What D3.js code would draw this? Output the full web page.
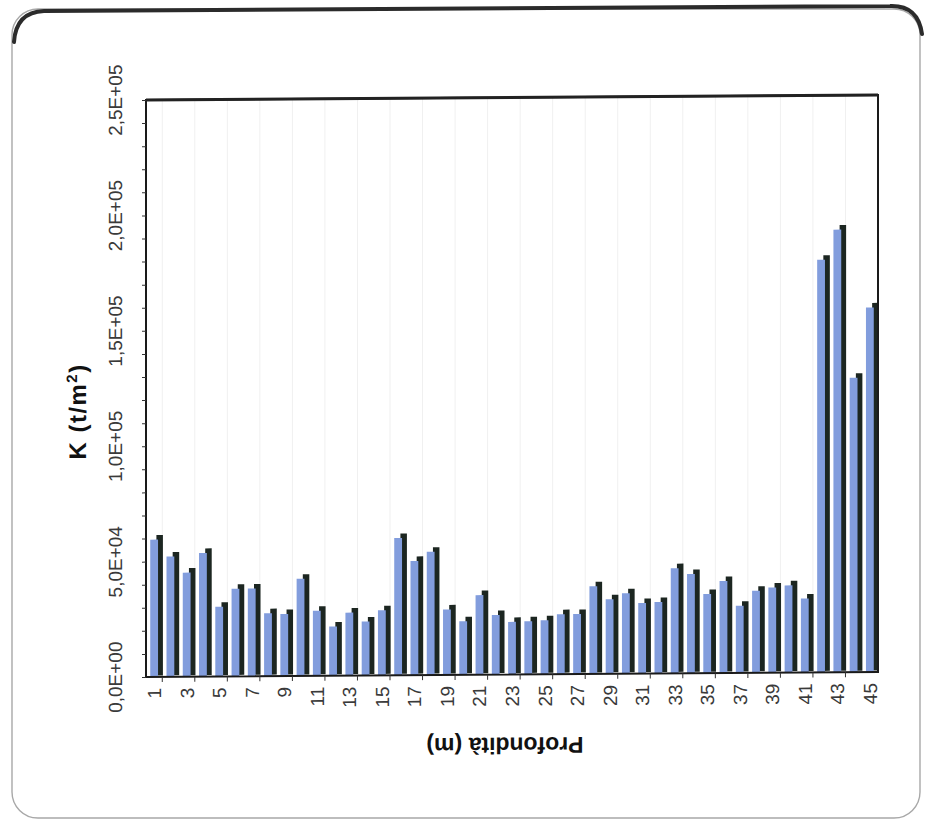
<!DOCTYPE html>
<html>
<head>
<meta charset="utf-8">
<script src="https://cdn.jsdelivr.net/npm/d3@7"></script>
<style>
  html, body { margin: 0; padding: 0; background: #ffffff; }
  svg { display: block; }
  text { font-family: "Liberation Sans", Arial, sans-serif; }
</style>
</head>
<body>
<svg id="chart" width="930" height="823"></svg>
<script>
// Depth (m) of each measurement
const depths = d3.range(1, 46);

// Subgrade modulus K (t/m²) at each depth
const kValues = [
  59500, 52100, 45100, 53600, 30200, 38000, 38000, 27300, 26900, 42100,
  28200, 21300, 27300, 23400, 28200, 59500, 49500, 53400, 28400, 23200,
  34500, 25800, 22800, 23000, 23400, 26000, 26000, 38000, 32300, 34900,
  30600, 31000, 45600, 43000, 34300, 39900, 29100, 35600, 36900, 37800,
  32100, 178800, 191800, 127600, 158000
];

// Value axis ticks and their labels
const yTickValues = [0, 50000, 100000, 150000, 200000, 250000];
const yTickLabels = ["0,0E+00", "5,0E+04", "1,0E+05", "1,5E+05", "2,0E+05", "2,5E+05"];
const yMinorStep = 10000;

// Category labels shown on every other depth
const xTickLabels = depths.filter(d => d % 2 === 1);

const svg = d3.select("#chart");
const plot = { left: 146, right: 878, top: 101, bottom: 678 };

// Rounded outer frame
const frame = svg.append("g");
frame.append("rect")
  .attr("x", 12).attr("y", 9).attr("width", 908).attr("height", 809)
  .attr("rx", 26).attr("ry", 26)
  .attr("fill", "#ffffff").attr("stroke", "#a8a8a8").attr("stroke-width", 1.4);
frame.append("path")
  .attr("d", "M14,42 Q16,12 44,11 L890,6 Q918,5 922,34")
  .attr("fill", "none").attr("stroke", "#2b2b2b").attr("stroke-width", 4)
  .attr("stroke-linecap", "round");

// Everything inside the frame is drawn slightly sloped
const g = svg.append("g").attr("transform", "skewY(-0.39)");

const x = d3.scaleBand().domain(depths).range([plot.left, plot.right]);
const y = d3.scaleLinear().domain([0, 250000]).range([plot.bottom, plot.top]);
const bw = x.bandwidth();

// Faint vertical gridlines
g.append("g").selectAll("line")
  .data(depths.filter(d => d % 2 === 1 && d < 45))
  .join("line")
  .attr("x1", d => x(d) + bw).attr("x2", d => x(d) + bw)
  .attr("y1", plot.top).attr("y2", plot.bottom)
  .attr("stroke", "#f0f0f0").attr("stroke-width", 1);

// Bars: dark side/shadow behind, blue face in front
const bars = g.append("g");
bars.selectAll("rect.side")
  .data(kValues)
  .join("rect")
  .attr("class", "side")
  .attr("x", (d, i) => x(depths[i]) + bw * 0.64)
  .attr("width", bw * 0.40)
  .attr("y", d => y(d) - 4.5)
  .attr("height", d => plot.bottom - y(d) + 3)
  .attr("fill", "#1c2621");
bars.selectAll("rect.face")
  .data(kValues)
  .join("rect")
  .attr("class", "face")
  .attr("x", (d, i) => x(depths[i]) + bw * 0.26)
  .attr("width", bw * 0.48)
  .attr("y", d => y(d))
  .attr("height", d => plot.bottom - y(d))
  .attr("fill", "#829ddd");

// Plot border
g.append("rect")
  .attr("x", plot.left).attr("y", plot.top)
  .attr("width", plot.right - plot.left).attr("height", plot.bottom - plot.top)
  .attr("fill", "none").attr("stroke", "#1a1a1a").attr("stroke-width", 2);
g.append("line")
  .attr("x1", plot.left).attr("x2", plot.right)
  .attr("y1", plot.top).attr("y2", plot.top)
  .attr("stroke", "#222").attr("stroke-width", 3);

// Y axis: major and minor ticks, rotated labels
const yAxis = d3.axisLeft(y)
  .tickValues(d3.range(0, 250001, yMinorStep))
  .tickSize(4)
  .tickFormat("");
g.append("g").attr("transform", `translate(${plot.left},0)`).call(yAxis)
  .call(a => a.select(".domain").remove())
  .selectAll("line").attr("stroke", "#333");

g.append("g").selectAll("text")
  .data(yTickValues)
  .join("text")
  .attr("transform", d => `translate(122,${y(d)}) rotate(-90)`)
  .attr("text-anchor", "middle")
  .attr("font-size", 19)
  .attr("fill", "#3a3a3a")
  .text((d, i) => yTickLabels[i]);

// X axis: ticks between every other category, rotated labels
g.append("g").selectAll("line")
  .data(depths.filter(d => d % 2 === 1 && d < 45))
  .join("line")
  .attr("x1", d => x(d) + bw).attr("x2", d => x(d) + bw)
  .attr("y1", plot.bottom).attr("y2", plot.bottom + 5)
  .attr("stroke", "#333");

g.append("g").selectAll("text")
  .data(xTickLabels)
  .join("text")
  .attr("transform", d => `translate(${x(d) + bw / 2 + 7},${plot.bottom + 11}) rotate(-90)`)
  .attr("text-anchor", "end")
  .attr("font-size", 19)
  .attr("fill", "#3a3a3a")
  .text(d => d);

// Axis titles
g.append("text")
  .attr("transform", "translate(86,412) rotate(-90)")
  .attr("text-anchor", "middle")
  .attr("font-size", 24).attr("font-weight", "bold")
  .attr("letter-spacing", 1.5)
  .attr("fill", "#111")
  .html('K (t/m<tspan dy="-9" font-size="15">2</tspan><tspan dy="9">)</tspan>');

g.append("text")
  .attr("transform", "translate(505,741) rotate(180)")
  .attr("text-anchor", "middle")
  .attr("font-size", 23).attr("font-weight", "bold")
  .attr("fill", "#111")
  .text("Profondità (m)");
</script>
</body>
</html>
